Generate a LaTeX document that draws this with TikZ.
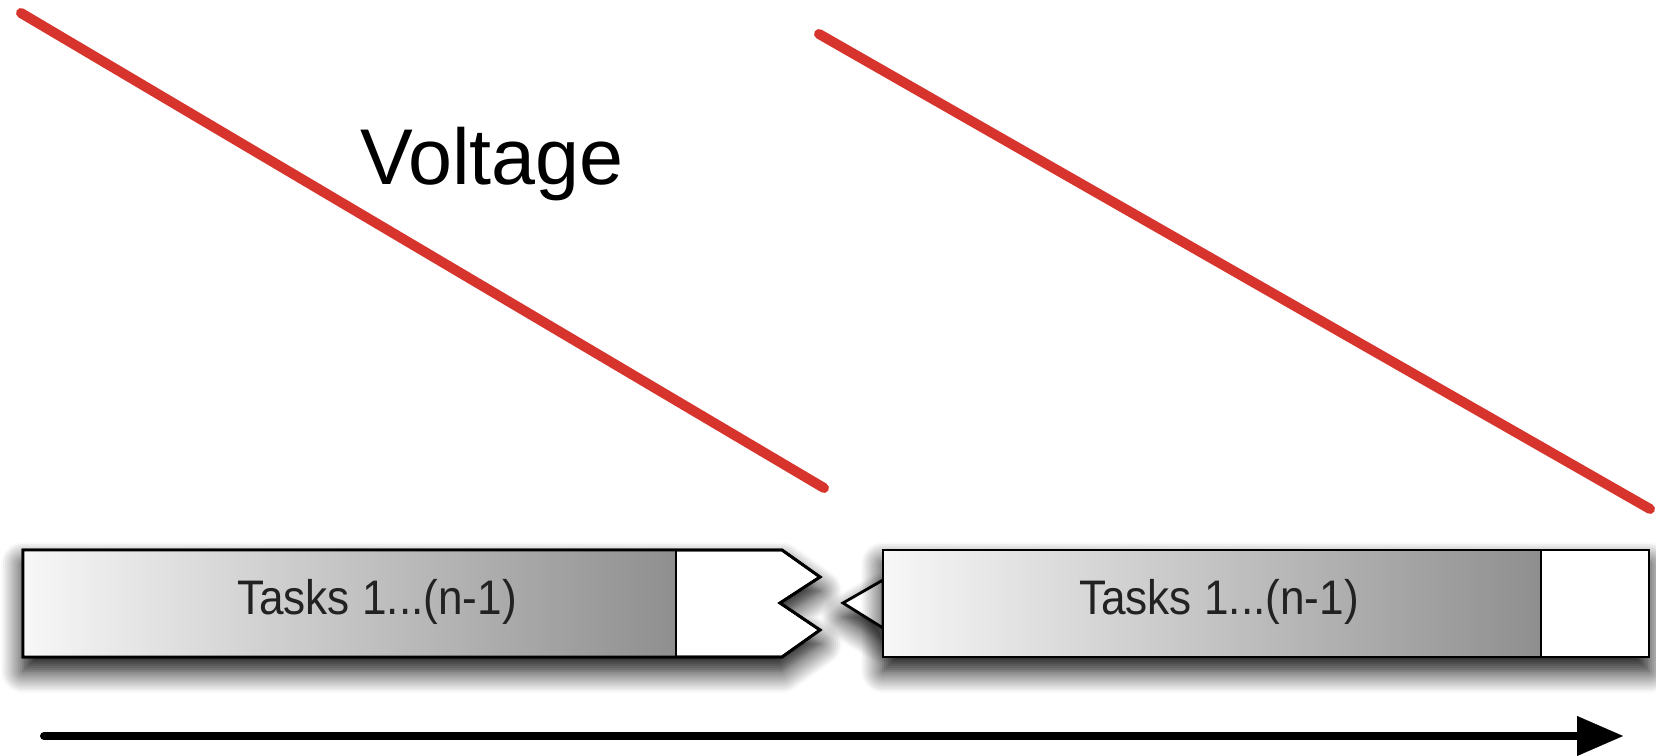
\documentclass[tikz,border=0pt]{standalone}
\usepackage{fontspec}
\setmainfont{Liberation Sans}
\newfontfamily\tasksfont{Liberation Sans}[FakeStretch=0.91]
\usetikzlibrary{arrows.meta,shadows.blur}
\definecolor{voltred}{RGB}{214,52,44}
\definecolor{tasktxt}{RGB}{34,34,34}
\tikzset{
  volt/.style={line width=1mm, draw=voltred, line cap=round},
  tarea/.style={draw=black, line width=0.8pt, fill=white,
    blur shadow={shadow xshift=0pt, shadow yshift=-1.4mm,
      shadow blur radius=2.2mm, shadow blur steps=12, shadow opacity=100}},
  borde/.style={draw=black, line width=0.8pt},
  grad/.style={left color=black!3, right color=black!44},
  tareatxt/.style={font=\tasksfont\fontsize{13.8}{16}\selectfont, text=tasktxt},
  eje/.style={line width=0.8mm, line cap=round,
    -{Triangle[length=4.6mm,width=4mm,line width=0.1pt,fill=black]}}
}
\begin{document}
\begin{tikzpicture}
  \useasboundingbox (0,0) rectangle (16.56,7.56);
  % voltaje
  \coordinate (v1a) at (0.21,7.43);
  \coordinate (v1b) at (8.24,2.68);
  \coordinate (v2a) at (8.19,7.22);
  \coordinate (v2b) at (16.50,2.47);
  \draw[volt] (v1a) -- (v1b);
  \draw[volt] (v2a) -- (v2b);
  \node[font=\fontsize{22.5}{26}\selectfont] (voltaje) at (4.92,5.92) {Voltage};
  % primer bloque
  \draw[tarea] (0.23,0.99) -- (0.23,2.06) -- (7.82,2.06) -- (8.20,1.79) -- (7.80,1.53)
    -- (8.20,1.26) -- (7.82,0.99) -- cycle;
  \shade[grad] (0.23,0.99) rectangle (6.76,2.06);
  \draw[borde] (0.23,0.99) -- (0.23,2.06) -- (7.82,2.06) -- (8.20,1.79) -- (7.80,1.53)
    -- (8.20,1.26) -- (7.82,0.99) -- cycle;
  \draw[borde] (6.76,0.99) -- (6.76,2.06);
  \node[tareatxt] (t1) at (3.77,1.54) {Tasks 1...(n-1)};
  % segundo bloque
  \draw[tarea] (8.83,1.28) -- (8.43,1.53) -- (8.83,1.76) -- cycle;
  \draw[tarea] (8.83,0.99) rectangle (16.49,2.06);
  \shade[grad] (8.83,0.99) rectangle (15.41,2.06);
  \draw[borde] (8.83,0.99) rectangle (16.49,2.06);
  \draw[borde] (15.41,0.99) -- (15.41,2.06);
  \node[tareatxt] (t2) at (12.19,1.54) {Tasks 1...(n-1)};
  % tiempo
  \coordinate (t0) at (0.44,0.20);
  \coordinate (tN) at (16.23,0.20);
  \draw[eje] (t0) -- (tN);
\end{tikzpicture}
\end{document}
